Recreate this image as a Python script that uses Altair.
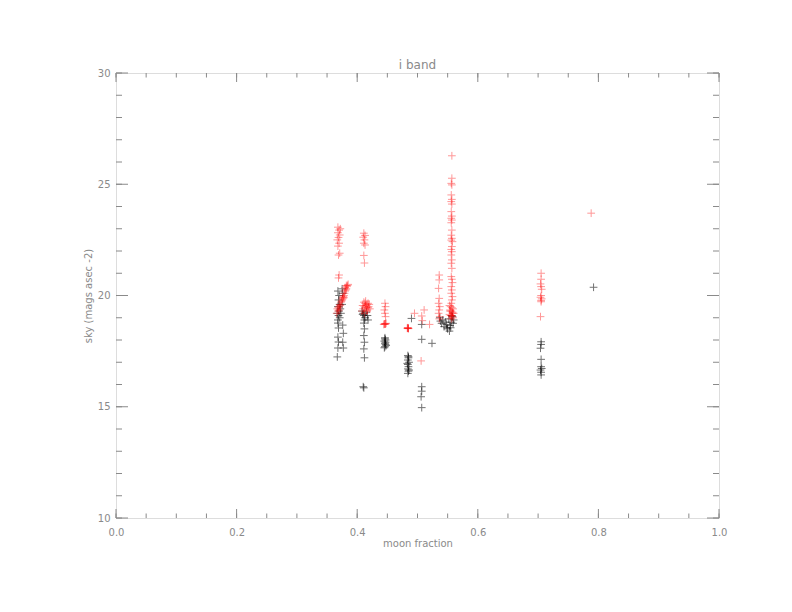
import altair as alt
import pandas as pd

# ---- data ----
red_x = [0.368, 0.370, 0.368, 0.371, 0.369, 0.372, 0.367, 0.370, 0.368, 0.371, 0.369, 0.370, 0.369,
         0.366, 0.368, 0.367, 0.369, 0.370, 0.372, 0.371, 0.373, 0.374, 0.375, 0.376, 0.377, 0.378,
         0.379, 0.380, 0.381, 0.382, 0.383, 0.384, 0.385, 0.380, 0.376, 0.370, 0.382, 0.378,
         0.411, 0.413, 0.410, 0.412, 0.411, 0.413, 0.411, 0.412,
         0.408, 0.410, 0.412, 0.414, 0.416, 0.418, 0.420, 0.411, 0.413, 0.415, 0.417, 0.419, 0.421,
         0.409, 0.414, 0.416, 0.412, 0.418,
         0.446, 0.447, 0.445, 0.446, 0.447, 0.446, 0.446, 0.445, 0.447, 0.444, 0.448,
         0.484, 0.484, 0.483, 0.485, 0.484, 0.485, 0.495, 0.511, 0.507, 0.508, 0.520, 0.506,
         0.536, 0.536, 0.535, 0.536, 0.535, 0.537, 0.536, 0.535, 0.537, 0.536,
         0.557, 0.557, 0.556, 0.557, 0.556, 0.557, 0.556, 0.557, 0.556, 0.557, 0.556, 0.557, 0.556,
         0.557, 0.556, 0.557, 0.556, 0.558, 0.557, 0.556, 0.557, 0.556, 0.557, 0.556, 0.557, 0.556,
         0.557, 0.558, 0.556, 0.557, 0.556, 0.558, 0.557, 0.556,
         0.553, 0.555, 0.557, 0.559, 0.554, 0.556, 0.558, 0.560, 0.553, 0.555, 0.557, 0.559, 0.556,
         0.554, 0.558, 0.556,
         0.705, 0.705, 0.704, 0.705, 0.706, 0.705, 0.704, 0.706, 0.705, 0.705, 0.704,
         0.788]
red_y = [23.07, 22.94, 22.82, 22.72, 22.61, 23.00, 22.50, 22.35, 22.22, 21.90, 21.82, 20.92, 20.79,
         19.20, 19.30, 19.40, 19.45, 19.50, 19.55, 19.60, 19.70, 19.75, 19.80, 19.90, 19.95, 20.00,
         20.10, 20.20, 20.25, 20.30, 20.40, 20.45, 20.50, 20.35, 19.85, 19.35, 20.45, 19.90,
         22.80, 22.70, 22.62, 22.50, 22.35, 22.27, 21.80, 21.46,
         19.30, 19.40, 19.50, 19.55, 19.60, 19.65, 19.60, 19.70, 19.65, 19.45, 19.35, 19.50, 19.40,
         19.55, 19.75, 19.30, 19.20, 19.45,
         19.65, 19.50, 19.35, 19.20, 19.05, 18.72, 18.72, 18.72, 18.72, 18.70, 18.75,
         18.53, 18.53, 18.53, 18.53, 18.55, 18.51, 19.20, 19.35, 19.08, 18.87, 18.70, 17.06,
         20.92, 20.70, 20.32, 19.87, 19.65, 19.50, 19.35, 19.20, 19.05, 18.95,
         26.28, 25.27, 25.04, 24.97, 24.52, 24.32, 24.22, 24.11, 23.77, 23.57, 23.47, 23.39, 23.27,
         22.94, 22.71, 22.57, 22.49, 22.42, 22.20, 22.07, 21.97, 21.82, 21.60, 21.45, 21.22, 20.85,
         20.73, 20.58, 20.40, 20.25, 20.10, 19.95, 19.80, 19.65,
         19.55, 19.50, 19.45, 19.40, 19.35, 19.30, 19.25, 19.20, 19.15, 19.10, 19.05, 19.00, 18.95,
         19.30, 19.20, 19.10,
         21.00, 20.73, 20.52, 20.40, 20.28, 20.00, 19.92, 19.85, 19.78, 19.72, 19.05,
         23.70]

black_x = [0.368, 0.370, 0.369, 0.371, 0.368, 0.370, 0.367, 0.369, 0.371, 0.368, 0.372, 0.375, 0.373,
           0.375, 0.376, 0.368, 0.369, 0.368, 0.369, 0.368, 0.367, 0.376, 0.377, 0.376, 0.377,
           0.408, 0.410, 0.411, 0.413, 0.412, 0.409, 0.415, 0.417, 0.418,
           0.411, 0.412, 0.411, 0.412, 0.411, 0.412, 0.410, 0.411,
           0.446, 0.447, 0.445, 0.446, 0.447, 0.446, 0.445, 0.447, 0.446, 0.448,
           0.484, 0.485, 0.484, 0.486, 0.484, 0.485, 0.484, 0.485, 0.484, 0.485, 0.483, 0.486,
           0.490, 0.507, 0.507, 0.524, 0.507, 0.507, 0.506, 0.507,
           0.537, 0.538, 0.540, 0.542, 0.544, 0.546, 0.548, 0.550, 0.552, 0.554, 0.556, 0.558,
           0.560, 0.557, 0.553, 0.549, 0.555, 0.559,
           0.705, 0.705, 0.704, 0.705, 0.705, 0.706, 0.704, 0.705, 0.705,
           0.792]
black_y = [20.20, 20.00, 19.80, 19.60, 19.50, 19.30, 19.20, 19.10, 19.00, 18.90, 19.40, 19.60, 19.20,
           20.30, 20.10, 18.76, 18.54, 18.13, 17.91, 17.64, 17.24, 18.67, 18.30, 17.90, 17.64,
           19.30, 19.20, 19.10, 19.00, 18.90, 19.15, 19.25, 19.10, 18.90,
           18.76, 18.50, 18.20, 17.90, 17.60, 17.20, 15.90, 15.85,
           18.10, 18.00, 17.95, 17.85, 17.80, 17.70, 17.65, 17.90, 18.05, 17.75,
           17.30, 17.20, 17.10, 17.00, 16.90, 16.80, 16.70, 16.60, 16.50, 17.25, 16.95, 16.65,
           18.97, 18.70, 18.03, 17.85, 15.90, 15.70, 15.45, 14.96,
           19.00, 18.85, 18.75, 18.90, 18.60, 18.80, 18.70, 18.50, 18.95, 18.65, 18.80, 19.05,
           18.90, 19.10, 18.40, 18.55, 18.55, 18.75,
           17.92, 17.80, 17.63, 17.13, 16.80, 16.72, 16.65, 16.55, 16.43,
           20.37]

x_major = [0.0, 0.2, 0.4, 0.6, 0.8, 1.0]
x_minor = [round(i * 0.05, 2) for i in range(21)]
y_major = [10, 15, 20, 25, 30]
y_minor = list(range(10, 31))

W, H = 603, 445
GRAY = "#8a8a8a"
FONT = "DejaVu Sans"

red = pd.DataFrame({"frac": red_x, "sky": red_y})
black = pd.DataFrame({"frac": black_x, "sky": black_y})

xs = alt.Scale(domain=[0, 1], nice=False, zero=False)
ys = alt.Scale(domain=[10, 30], nice=False, zero=False)

xaxis = alt.Axis(values=x_major, format=".1f", ticks=False, domain=False, grid=False,
                 labelFlush=False,
                 labelColor=GRAY, labelFont=FONT, labelFontSize=10, labelPadding=9,
                 title="moon fraction", titleColor=GRAY, titleFont=FONT, titleFontSize=10,
                 titleFontWeight="normal", titlePadding=1)
yaxis = alt.Axis(values=y_major, format="d", ticks=False, domain=False, grid=False,
                 labelFlush=False,
                 labelColor=GRAY, labelFont=FONT, labelFontSize=10, labelPadding=6,
                 title="sky (mags asec -2)", titleColor=GRAY, titleFont=FONT, titleFontSize=10,
                 titleFontWeight="normal", titlePadding=4)

plus = "M-1,0L1,0M0,-1L0,1"

black_layer = alt.Chart(black).mark_point(shape=plus, filled=False, size=60, strokeWidth=1,
                                          color="black", opacity=0.55).encode(
    x=alt.X("frac:Q", scale=xs, axis=xaxis),
    y=alt.Y("sky:Q", scale=ys, axis=yaxis),
)
red_layer = alt.Chart(red).mark_point(shape=plus, filled=False, size=60, strokeWidth=1,
                                      color="red", opacity=0.4).encode(
    x=alt.X("frac:Q", scale=xs),
    y=alt.Y("sky:Q", scale=ys),
)

def xticks(vals, length):
    d = pd.DataFrame({"v": vals})
    bot = alt.Chart(d).mark_rule(color=GRAY, strokeWidth=1).encode(
        x=alt.X("v:Q", scale=xs), y=alt.value(H), y2=alt.value(H - length))
    top = alt.Chart(d).mark_rule(color=GRAY, strokeWidth=1).encode(
        x=alt.X("v:Q", scale=xs), y=alt.value(0), y2=alt.value(length))
    return [bot, top]

def yticks(vals, length):
    d = pd.DataFrame({"v": vals})
    left = alt.Chart(d).mark_rule(color=GRAY, strokeWidth=1).encode(
        y=alt.Y("v:Q", scale=ys), x=alt.value(0), x2=alt.value(length))
    right = alt.Chart(d).mark_rule(color=GRAY, strokeWidth=1).encode(
        y=alt.Y("v:Q", scale=ys), x=alt.value(W), x2=alt.value(W - length))
    return [left, right]

layers = (xticks(x_minor, 4.5) + xticks(x_major, 9) + yticks(y_minor, 6) + yticks(y_major, 12)
          + [black_layer, red_layer])

chart = alt.layer(*layers).properties(
    width=W, height=H,
    title=alt.TitleParams("i band", color=GRAY, font=FONT, fontSize=12, fontWeight="normal",
                          offset=-4),
    autosize=alt.AutoSizeParams(type="none"),
    padding={"left": 108, "top": 65, "right": 60, "bottom": 60},
).configure_view(stroke=GRAY, strokeWidth=1).configure(background="white")

chart.save("out.html", embed_options={"renderer": "svg", "actions": False})
